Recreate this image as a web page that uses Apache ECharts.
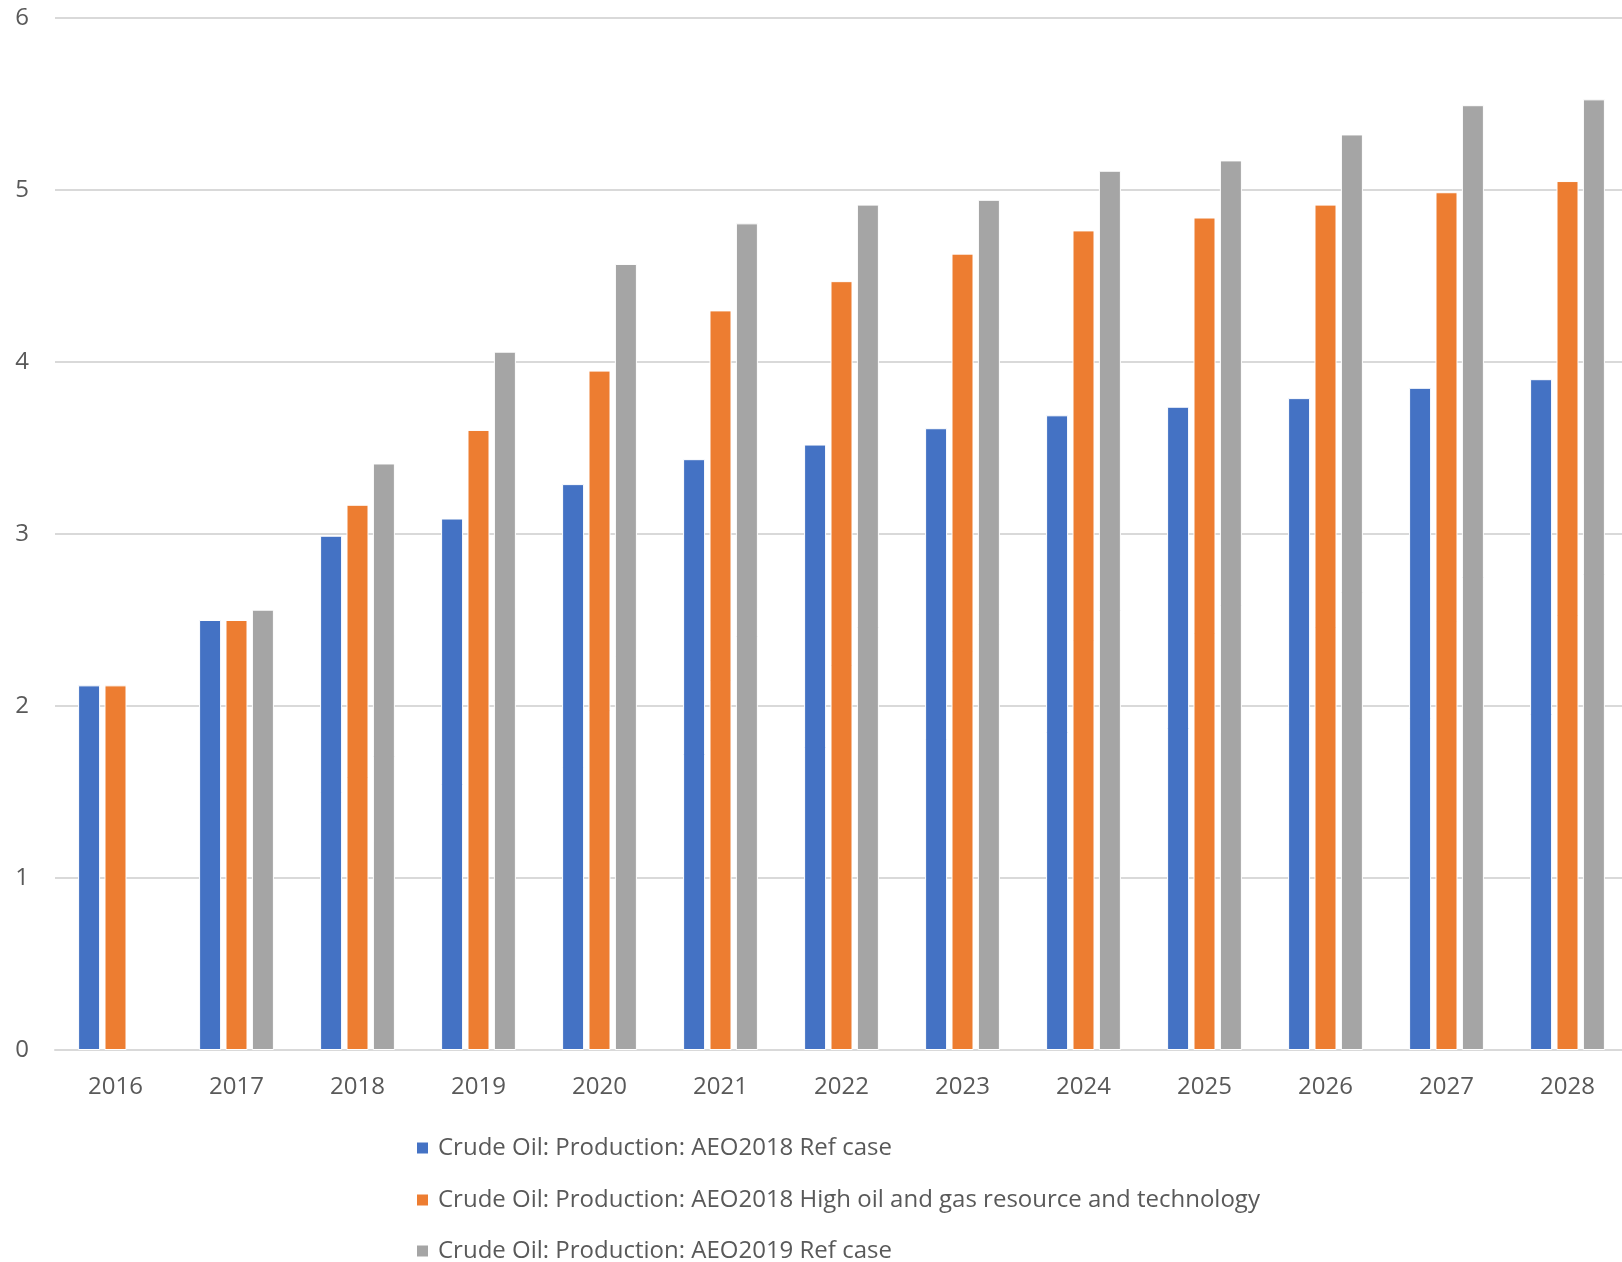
<!DOCTYPE html>
<html>
<head>
<meta charset="utf-8">
<title>Crude Oil Production</title>
<script src="https://cdn.jsdelivr.net/npm/echarts@6/dist/echarts.min.js"></script>
<style>
  html, body { margin: 0; padding: 0; background: #fff; }
  #main { width: 1622px; height: 1262px; }
</style>
</head>
<body>
<div id="main"></div>
<script>
// data
var years = ['2016', '2017', '2018', '2019', '2020', '2021', '2022', '2023', '2024', '2025', '2026', '2027', '2028']
var aeo2018Ref = [2.12, 2.5, 2.99, 3.09, 3.29, 3.435, 3.52, 3.615, 3.69, 3.74, 3.79, 3.85, 3.9]
var aeo2018High = [2.12, 2.5, 3.17, 3.605, 3.95, 4.3, 4.47, 4.63, 4.765, 4.84, 4.915, 4.987, 5.052]
var aeo2019Ref = [null, 2.56, 3.41, 4.06, 4.57, 4.806, 4.915, 4.943, 5.112, 5.172, 5.323, 5.493, 5.527]
var seriesNames = [
  'Crude Oil: Production: AEO2018 Ref case',
  'Crude Oil: Production: AEO2018 High oil and gas resource and technology',
  'Crude Oil: Production: AEO2019 Ref case'
]
var yTicks = { min: 0, max: 6, interval: 1 }

var colors = ['#4472C4', '#ED7D31', '#A5A5A5']
var textColor = '#595959'
var fontFamily = '"Open Sans", "DejaVu Sans", sans-serif'

function barSeries (name, data) {
  return {
    name: name,
    type: 'bar',
    data: data,
    barWidth: 22,
    barGap: '20%',
    itemStyle: { borderColor: '#fff', borderWidth: 1 }
  }
}

// one legend per row, stacked like the excel legend
var legendTops = [1136, 1188, 1239]
var legends = seriesNames.map(function (name, i) {
  return {
    orient: 'horizontal',
    left: 415,
    top: legendTops[i],
    padding: 0,
    itemWidth: 13,
    itemHeight: 13,
    icon: 'rect',
    textStyle: { color: textColor, fontSize: 24, fontFamily: fontFamily, padding: [0, 0, 0, 4] },
    data: [name]
  }
})

var chart = echarts.init(document.getElementById('main'))
chart.setOption({
  animation: false,
  color: colors,
  textStyle: { fontFamily: fontFamily },
  // the plot runs a little past the right edge, like the cropped original
  grid: { left: 55, top: 18, right: -6, height: 1032, outerBoundsMode: 'none' },
  legend: legends,
  xAxis: {
    type: 'category',
    data: years,
    axisLine: { lineStyle: { color: '#D9D9D9', width: 2 } },
    axisTick: { show: false },
    axisLabel: { color: textColor, fontSize: 24, margin: 25 }
  },
  yAxis: {
    type: 'value',
    min: yTicks.min,
    max: yTicks.max,
    interval: yTicks.interval,
    axisLine: { show: false },
    axisTick: { show: false },
    axisLabel: { color: textColor, fontSize: 24, margin: 26 },
    splitLine: { lineStyle: { color: '#D9D9D9', width: 2 } }
  },
  series: [
    barSeries(seriesNames[0], aeo2018Ref),
    barSeries(seriesNames[1], aeo2018High),
    barSeries(seriesNames[2], aeo2019Ref)
  ]
})
</script>
</body>
</html>
